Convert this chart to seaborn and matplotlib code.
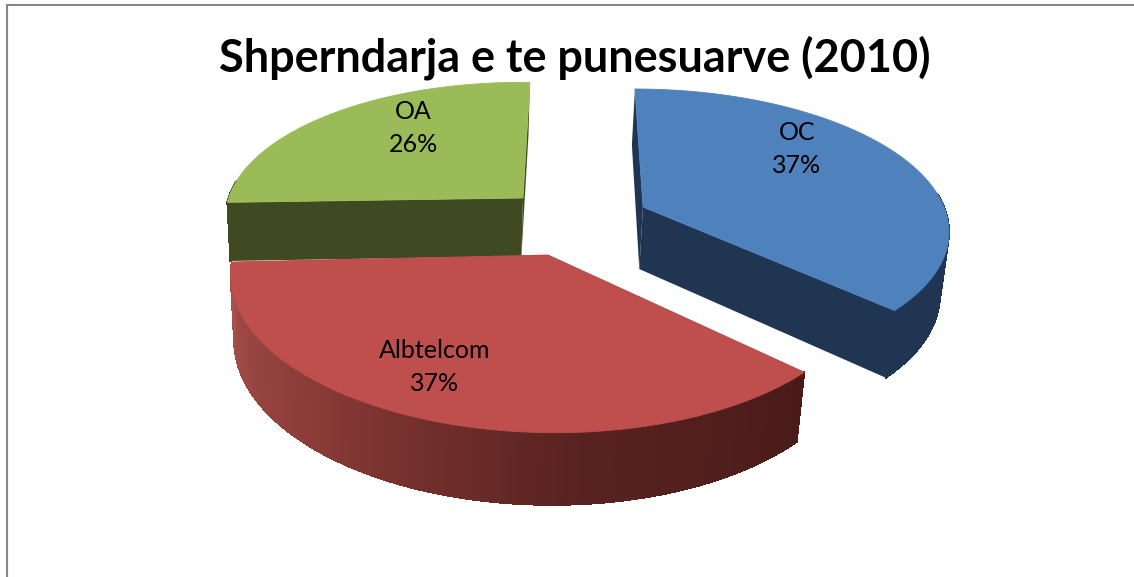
#!/usr/bin/env python3

import numpy as np
import matplotlib
matplotlib.use('Agg')
import matplotlib.pyplot as plt
import seaborn as sns

names = ['OC', 'Albtelcom', 'OA']
shares = [37, 37, 26]

title = 'Shperndarja e te punesuarve (2010)'

top_colors = ['#4F81BD', '#BE4F4C', '#9BBB59']
side_colors = [
    ['#1F3552', '#1F3552'],
    ['#4A1B19', '#5A2321', '#8A3B37', '#A8514D'],
    ['#3F4A23', '#3F4A23'],
]

# slice layout in pixels: apex, radii, skew/shear, extrusion towards vanishing point
layout = {
    'OC': dict(apex=(643, 207), a=301, b=135.7, skew=0.068, shear=0.0, depth=0.0168, label=(797, 149)),
    'Albtelcom': dict(apex=(548, 255), a=314, b=151, skew=0.01, shear=0.008, depth=0.0177, label=(435, 367)),
    'OA': dict(apex=(523, 198), a=293, b=133, skew=-0.06, shear=0.0137, depth=0.0157, label=(413, 128)),
}
persp = 0.15
vanish = np.array([423.0, 3900.0])
draw_order = ['OA', 'OC', 'Albtelcom']

sns.set_theme(style='white')
plt.rcParams['font.family'] = ['Lato', 'DejaVu Sans']


def project(theta, geo):
    w = 1 + persp * np.cos(theta)
    y = -geo['b'] * np.cos(theta) / w
    x = geo['a'] * np.sin(theta) / w + geo['skew'] * y
    return geo['apex'][0] + x, geo['apex'][1] + y + geo['shear'] * x, w


def extrude(x, y, w, geo):
    t = geo['depth'] / w
    return x + (vanish[0] - x) * t, y + (vanish[1] - y) * t


def draw_slice(ax, start, stop, geo, top, sides):
    theta = np.linspace(start, stop, 121)
    x, y, w = project(theta, geo)
    bx, by = extrude(x, y, w, geo)
    ax0, ay0 = geo['apex']
    abx, aby = extrude(ax0, ay0, 1.0, geo)

    # radial walls, then the outer wall in strips for the shading
    ax.fill([ax0, x[0], bx[0], abx], [ay0, y[0], by[0], aby], color=sides[0], lw=0, zorder=1)
    ax.fill([ax0, x[-1], bx[-1], abx], [ay0, y[-1], by[-1], aby], color=sides[0], lw=0, zorder=1)
    strips = sns.blend_palette(sides, len(theta) - 1)
    for i, c in enumerate(strips):
        # the back of the rim is hidden behind the top face
        if np.cos(theta[i]) > 0.1:
            continue
        ax.fill([x[i], x[i + 1], bx[i + 1], bx[i]], [y[i], y[i + 1], by[i + 1], by[i]],
                color=c, lw=0.6, antialiased=False, zorder=1)
    ax.fill(np.r_[ax0, x], np.r_[ay0, y], color=top, lw=0.6, zorder=1)


def main():
    fig = plt.figure(figsize=(11.34, 5.77), dpi=100)
    ax = fig.add_axes([0, 0, 1, 1])
    ax.set_xlim(0, 1134)
    ax.set_ylim(577, 0)
    ax.axis('off')

    edges = np.radians(np.r_[0, np.cumsum(shares)] * 3.6)
    for name in draw_order:
        i = names.index(name)
        draw_slice(ax, edges[i], edges[i + 1], layout[name], top_colors[i], side_colors[i])
        ax.text(*layout[name]['label'], f'{name}\n{shares[i]}%', ha='center', va='center',
                fontsize=18, color='black', linespacing=1.55, zorder=3)

    ax.text(575, 58, title, ha='center', va='center', fontsize=32.4, fontweight='bold', color='black')

    ax.plot([7, 7, 1134], [577, 5, 5], color='#868686', lw=1.5, solid_joinstyle='miter')

    fig.savefig('out.png', dpi=100)


if __name__ == '__main__':
    main()
